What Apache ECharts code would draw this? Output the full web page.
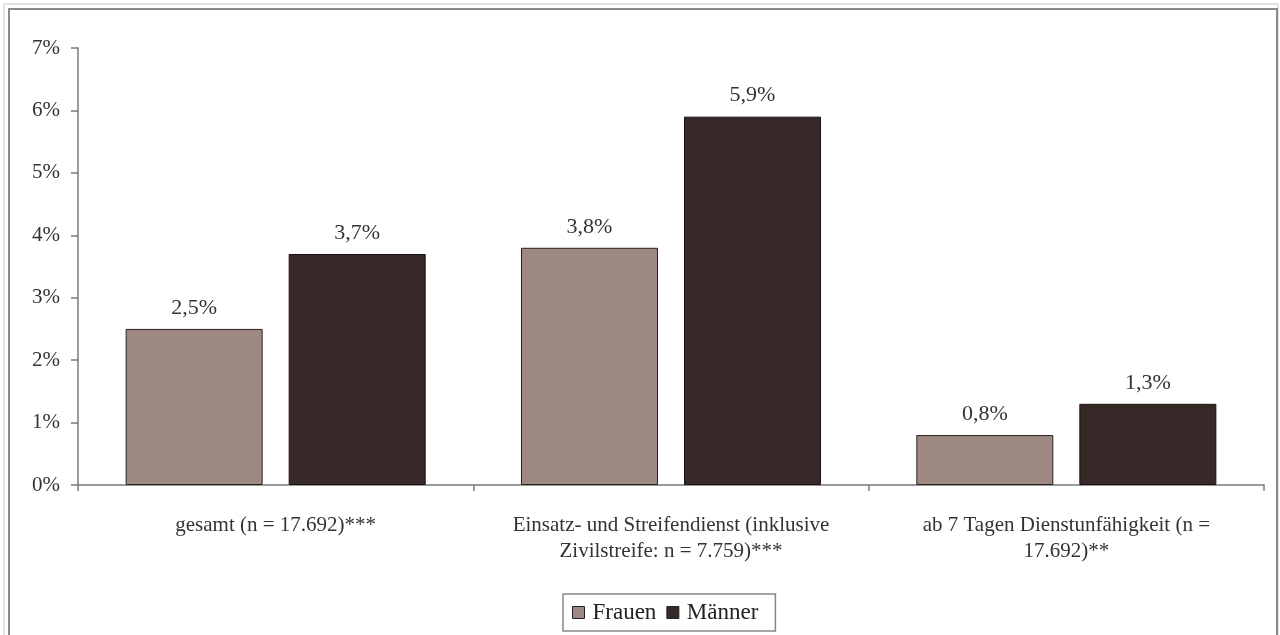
<!DOCTYPE html>
<html>
<head>
<meta charset="utf-8">
<script src="https://cdn.jsdelivr.net/npm/echarts@6/dist/echarts.min.js"></script>
<style>
  html, body { margin: 0; padding: 0; background: #fff; }
  #frame { position: absolute; left: 3px; top: 3px; width: 1276px; height: 640px;
           border: 2px solid #e2e2e2; box-sizing: border-box; }
  #inner { position: absolute; left: 8px; top: 8px; width: 1270px; height: 640px;
           border: 2px solid #8a8a8a; box-sizing: border-box; }
  #chart { position: absolute; left: 0; top: 0; width: 1280px; height: 635px; }
</style>
</head>
<body>
<div id="frame"></div>
<div id="inner"></div>
<div id="chart"></div>
<script>
const categories = [
    'gesamt (n = 17.692)***',
    'Einsatz- und Streifendienst (inklusive\nZivilstreife: n = 7.759)***',
    'ab 7 Tagen Dienstunfähigkeit (n =\n17.692)**'
];
const frauen = [2.5, 3.8, 0.8];
const maenner = [3.7, 5.9, 1.3];

const FONT = '"Liberation Serif", "Times New Roman", serif';
const COL_F = '#9e8982';
const COL_M = '#372928';

const chart = echarts.init(document.getElementById('chart'));

const labelOpt = {
    show: true, position: 'top', distance: 10,
    fontFamily: FONT, fontSize: 22, color: '#333',
    formatter: p => p.value.toFixed(1).replace('.', ',') + '%'
};

chart.setOption({
    animation: false,
    textStyle: { fontFamily: FONT },
    grid: { left: 78, right: 16, top: 48, bottom: 150, containLabel: false },
    legend: {
        bottom: 4, left: 563,
        data: ['Frauen', 'Männer'],
        icon: 'rect',
        itemWidth: 12, itemHeight: 12, itemGap: 10,
        itemStyle: { borderColor: '#222', borderWidth: 1 },
        borderColor: '#888', borderWidth: 1.5, borderRadius: 0,
        padding: [7, 17, 7, 9],
        textStyle: { fontFamily: FONT, fontSize: 23, color: '#222', padding: [0, 0, 0, 3] }
    },
    xAxis: {
        type: 'category',
        data: categories,
        axisLine: { lineStyle: { color: '#7a7a7a', width: 1.5 } },
        axisTick: { show: true, interval: 0, length: 6, lineStyle: { color: '#7a7a7a', width: 1.5 } },
        axisLabel: { interval: 0, hideOverlap: false, fontFamily: FONT, fontSize: 21,
                     color: '#333', margin: 27, lineHeight: 26 }
    },
    yAxis: {
        type: 'value', min: 0, max: 7, interval: 1,
        splitLine: { show: false },
        axisLine: { show: true, lineStyle: { color: '#7a7a7a', width: 1.5 } },
        axisTick: { show: true, length: 7, lineStyle: { color: '#7a7a7a', width: 1.5 } },
        axisLabel: { fontFamily: FONT, fontSize: 21, color: '#333', margin: 18,
                     formatter: v => v + '%' }
    },
    series: [
        { name: 'Frauen', type: 'bar', data: frauen, barWidth: 137, barGap: '19%',
          itemStyle: { color: COL_F, borderColor: '#2a2020', borderWidth: 1 },
          label: labelOpt },
        { name: 'Männer', type: 'bar', data: maenner, barWidth: 137,
          itemStyle: { color: COL_M, borderColor: '#1a1010', borderWidth: 1 },
          label: labelOpt }
    ]
});
</script>
</body>
</html>
